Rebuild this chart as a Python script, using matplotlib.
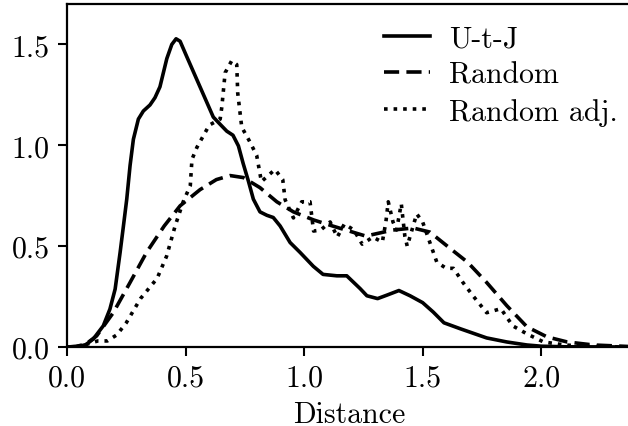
import matplotlib
matplotlib.use("Agg")
import matplotlib.pyplot as plt

plt.rcParams['font.family'] = ['cmr10', 'DejaVu Serif']
plt.rcParams['mathtext.fontset'] = 'cm'
plt.rcParams['axes.formatter.use_mathtext'] = True

# density estimates of the distance distributions
utj_x = [0.0, 0.05, 0.08, 0.111, 0.153, 0.181, 0.203, 0.224, 0.238, 0.252, 0.266,
         0.280, 0.301, 0.322, 0.350, 0.371, 0.392, 0.421, 0.442, 0.460, 0.477,
         0.505, 0.561, 0.617, 0.646, 0.674, 0.70, 0.723, 0.743, 0.765, 0.786,
         0.814, 0.843, 0.87, 0.899, 0.941, 0.983, 1.039, 1.08, 1.138, 1.18,
         1.236, 1.265, 1.31, 1.349, 1.40, 1.447, 1.50, 1.545, 1.59, 1.66, 1.77,
         1.855, 1.94, 2.0, 2.1, 2.38]
utj_y = [0.0, 0.003, 0.012, 0.04, 0.105, 0.188, 0.287, 0.469, 0.60, 0.733, 0.90,
         1.03, 1.13, 1.17, 1.20, 1.236, 1.29, 1.43, 1.50, 1.528, 1.516,
         1.44, 1.29, 1.14, 1.104, 1.07, 1.05, 0.997, 0.91, 0.823, 0.733,
         0.67, 0.653, 0.642, 0.60, 0.518, 0.469, 0.40, 0.36, 0.353, 0.353,
         0.29, 0.254, 0.24, 0.257, 0.28, 0.254, 0.22, 0.173, 0.12, 0.09, 0.045,
         0.025, 0.01, 0.004, 0.001, 0.0]

rand_x = [0.0, 0.04, 0.08, 0.125, 0.195, 0.266, 0.336, 0.41, 0.477, 0.561, 0.63,
          0.688, 0.744, 0.814, 0.885, 0.955, 1.04, 1.12, 1.26, 1.375, 1.46, 1.53,
          1.62, 1.69, 1.77, 1.855, 1.94, 2.025, 2.11, 2.22, 2.38]
rand_y = [0.0, 0.003, 0.015, 0.055, 0.17, 0.32, 0.47, 0.60, 0.70, 0.78, 0.83,
          0.85, 0.84, 0.79, 0.72, 0.67, 0.63, 0.60, 0.55, 0.58, 0.59, 0.57,
          0.485, 0.42, 0.32, 0.205, 0.10, 0.05, 0.025, 0.01, 0.002]

adj_x = [0.0, 0.06, 0.10, 0.13, 0.17, 0.21, 0.25, 0.31, 0.38, 0.42, 0.456, 0.49,
         0.52, 0.527, 0.548, 0.60, 0.646, 0.653, 0.667, 0.695, 0.716, 0.72, 0.737,
         0.77, 0.80, 0.82, 0.877, 0.91, 0.92, 0.955, 0.99, 1.025, 1.04, 1.07, 1.11,
         1.14, 1.17, 1.21, 1.245, 1.29, 1.33, 1.345, 1.355, 1.375, 1.39, 1.41,
         1.425, 1.435, 1.45, 1.475, 1.50, 1.53, 1.56, 1.60, 1.63, 1.67, 1.715,
         1.77, 1.83, 1.88, 1.94, 2.01, 2.1, 2.2, 2.38]
adj_y = [0.0, 0.004, 0.02, 0.03, 0.03, 0.06, 0.12, 0.24, 0.34, 0.45, 0.60, 0.72,
         0.80, 0.93, 0.99, 1.10, 1.13, 1.19, 1.36, 1.42, 1.40, 1.26, 1.09,
         1.02, 0.95, 0.82, 0.88, 0.83, 0.73, 0.64, 0.72, 0.72, 0.575, 0.58, 0.62,
         0.545, 0.61, 0.58, 0.51, 0.545, 0.52, 0.62, 0.72, 0.62, 0.58, 0.71,
         0.55, 0.50, 0.56, 0.66, 0.62, 0.52, 0.42, 0.39, 0.39, 0.32, 0.25,
         0.17, 0.19, 0.105, 0.065, 0.025, 0.01, 0.003, 0.0]

labels = ['U-t-J', 'Random', 'Random adj.']
x_ticks = [0.0, 0.5, 1.0, 1.5, 2.0]
y_ticks = [0.0, 0.5, 1.0, 1.5]

fig = plt.figure(figsize=(6.28, 4.27), dpi=100)
ax = fig.add_axes([0.1067, 0.185, 0.9, 0.803])

lw = 2.6
fs = 21.5
ax.plot(utj_x, utj_y, color='black', linewidth=lw, linestyle='-', label=labels[0])
ax.plot(rand_x, rand_y, color='black', linewidth=lw, dashes=(4.2, 2.0), label=labels[1])
ax.plot(adj_x, adj_y, color='black', linewidth=lw, linestyle=':', label=labels[2])

ax.set_xlim(0, 2.384)
ax.set_ylim(0, 1.70)
ax.set_xticks(x_ticks)
ax.set_yticks(y_ticks)
ax.set_xticklabels(['%.1f' % t for t in x_ticks])
ax.set_yticklabels(['%.1f' % t for t in y_ticks])
ax.tick_params(labelsize=fs, length=6.5, width=1.5)
ax.tick_params(axis='x', pad=6)
ax.tick_params(axis='y', pad=6)
for s in ax.spines.values():
    s.set_linewidth(1.6)

ax.set_xlabel('Distance', fontsize=fs, labelpad=6)

ax.legend(loc='upper right', bbox_to_anchor=(0.996, 0.974), frameon=False,
          fontsize=fs, handlelength=1.55, handletextpad=0.65,
          labelspacing=0.3, borderaxespad=0.0)

fig.savefig('out.png', dpi=100)
